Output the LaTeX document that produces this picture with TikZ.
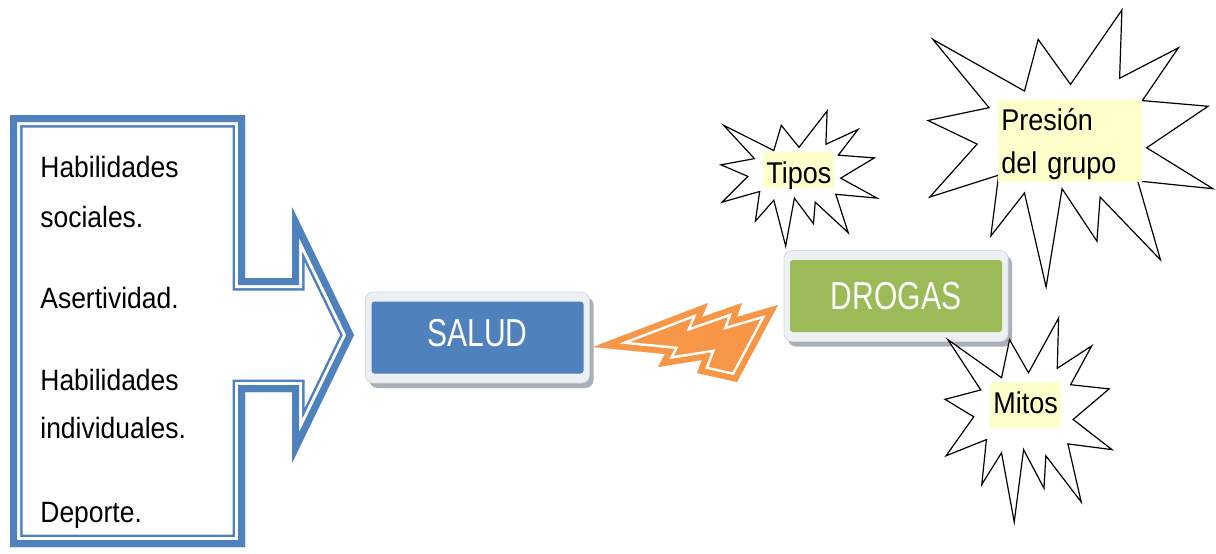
\documentclass[tikz,border=0pt]{standalone}
\usepackage{fontspec}
\setmainfont{Liberation Sans}[FakeStretch=0.9]
\newfontfamily\boxfont{Liberation Sans}[FakeStretch=0.77]
\usetikzlibrary{positioning}

\definecolor{arrowblue}{HTML}{4F81BD}
\definecolor{saludblue}{HTML}{4F81BD}
\definecolor{drogasgreen}{HTML}{9BBB59}
\definecolor{boltorange}{HTML}{F79646}
\definecolor{hlyellow}{HTML}{FFFFCC}
\definecolor{framegray}{HTML}{EDF0F3}
\definecolor{frameline}{HTML}{D3D9DF}
\definecolor{shadowgray}{HTML}{A8AFB5}

\begin{document}
\begin{tikzpicture}[x=0.5pt, y=-0.5pt,
    item/.style = {anchor=base west, inner sep=0pt, font=\fontsize{14.7}{17}\selectfont},
    box/.style = {rounded corners=1.5pt, inner sep=0pt, text=white, text height=14pt,
                  font=\boxfont\fontsize{19.5}{22}\selectfont,
                  minimum width=106pt, minimum height=36pt},
    frame/.style = {rounded corners=4pt, fill=framegray, draw=frameline, line width=0.4pt,
                    minimum width=112pt, minimum height=45.5pt},
    shade/.style = {rounded corners=4pt, fill=shadowgray, minimum width=112pt, minimum height=45.5pt},
    hl/.style = {fill=hlyellow, inner xsep=1.5pt, inner ysep=0pt, font=\fontsize{15}{21.65}\selectfont},
    seal/.pic = {\draw[line width=0.6pt, fill=white]
        (108,58) -- (83.52,22.95) -- (73.12,63.2) -- (3.7,22.95) -- (46.27,76.17) -- (0,86.15)
        -- (37.22,104.57) -- (1.35,145.87) -- (53.55,128.77) -- (47.62,176.17) -- (73.12,142.7)
        -- (89.52,216) -- (101.62,139.37) -- (128.02,180.27) -- (130.45,145.87) -- (176.17,194.8)
        -- (158.95,133.3) -- (216,139.37) -- (165.72,107.42) -- (212.32,75.05) -- (162.45,70.63)
        -- (189.75,29.5) -- (145.22,53.25) -- (146.95,0) -- cycle;}]

    \path[use as bounding box, fill=white] (0,0) rectangle (1216,553);

    % left block arrow
    \coordinate (r1) at (10,115);
    \coordinate (r2) at (245,115);
    \coordinate (r3) at (245,278);
    \coordinate (r4) at (292,278);
    \coordinate (r5) at (292,207);
    \coordinate (tip) at (354,335);
    \coordinate (r6) at (292,463);
    \coordinate (r7) at (292,392);
    \coordinate (r8) at (245,392);
    \coordinate (r9) at (245,547);
    \coordinate (r10) at (10,547);
    \begin{scope}
        \clip (r1) -- (r2) -- (r3) -- (r4) -- (r5) -- (tip) -- (r6) -- (r7) -- (r8) -- (r9) -- (r10) -- cycle;
        \foreach \w/\c in {12.5pt/arrowblue, 10pt/white, 7pt/arrowblue}
            \draw[\c, line width=\w] (r1) -- (r2) -- (r3) -- (r4) -- (r5) -- (tip) -- (r6) -- (r7) -- (r8) -- (r9) -- (r10) -- cycle;
    \end{scope}

    \node[item] (hab1) at (40,177) {Habilidades};
    \node[item] (soc) at (40,227) {sociales.};
    \node[item] (asert) at (40,308) {Asertividad.};
    \node[item] (hab2) at (40,390) {Habilidades};
    \node[item] (indiv) at (40,438) {individuales.};
    \node[item] (dep) at (40,522) {Deporte.};

    % boxes
    \node[shade] at (481.5,342.5) {};
    \node[frame] (saludframe) at (477.5,337.5) {};
    \node[box, fill=saludblue, text depth=5.5pt] (salud) at (477.5,337.5) {SALUD};

    \node[shade] at (900,301) {};
    \node[frame] (drogasframe) at (896,296) {};
    \node[box, fill=drogasgreen] (drogas) at (896,296) {DROGAS};

    % lightning bolt
    \coordinate (b1) at (778,305);
    \coordinate (b2) at (737,317);
    \coordinate (b3) at (742,303);
    \coordinate (b4) at (702,317);
    \coordinate (b5) at (708,303);
    \coordinate (b6) at (593,347);
    \coordinate (b7) at (665,354);
    \coordinate (b8) at (658,367);
    \coordinate (b9) at (702,360);
    \coordinate (b10) at (697,373);
    \coordinate (b11) at (737,382);
    \begin{scope}
        \clip (b1) -- (b2) -- (b3) -- (b4) -- (b5) -- (b6) -- (b7) -- (b8) -- (b9) -- (b10) -- (b11) -- cycle;
        \fill[boltorange] (b1) -- (b2) -- (b3) -- (b4) -- (b5) -- (b6) -- (b7) -- (b8) -- (b9) -- (b10) -- (b11) -- cycle;
        \foreach \w/\c in {8.5pt/white, 6pt/boltorange}
            \draw[\c, line width=\w] (b1) -- (b2) -- (b3) -- (b4) -- (b5) -- (b6) -- (b7) -- (b8) -- (b9) -- (b10) -- (b11) -- cycle;
    \end{scope}

    % starbursts
    \pic[xscale=156/216, yscale=135/216] at (721,111) {seal};
    \pic[xscale=285/216, yscale=277/216] at (928,10) {seal};
    \pic[xscale=167/216, yscale=204/216] at (945,318) {seal};

    \node[hl, anchor=base west, text height=15.8pt, text depth=2.5pt] (tipos) at (763,183.3) {Tipos};
    \node[hl, anchor=north west, text width=68.85pt, align=left] (presion) at (998,100)
        {\rule{0pt}{15pt}Presión\\del grupo\rule[-4.2pt]{0pt}{0pt}};
    \node[hl, anchor=base west, text height=15.8pt, text depth=7.5pt] (mitos) at (990,413.3) {Mitos};
\end{tikzpicture}
\end{document}
